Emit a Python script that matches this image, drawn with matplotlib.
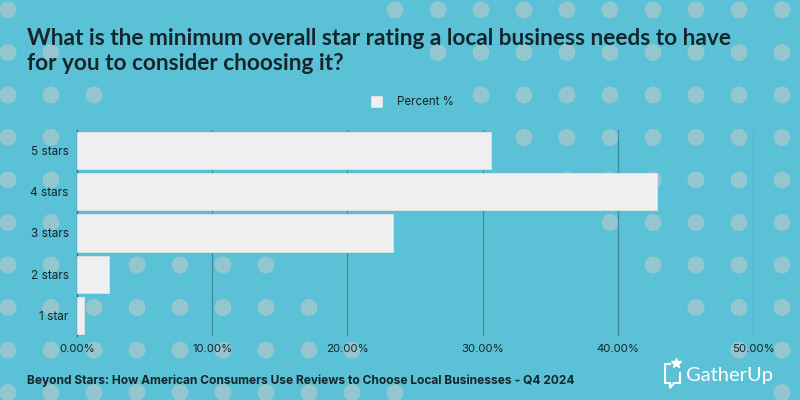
import matplotlib.pyplot as plt
from matplotlib.patches import Circle
from matplotlib.ticker import FuncFormatter

# data
ratings = ["5 stars", "4 stars", "3 stars", "2 stars", "1 star"]
percent = [30.6, 42.9, 23.4, 2.4, 0.5]
x_ticks = [0, 10, 20, 30, 40, 50]

title = ("What is the minimum overall star rating a local business needs to have\n"
         "for you to consider choosing it?")
footer = "Beyond Stars: How American Consumers Use Reviews to Choose Local Businesses - Q4 2024"

bg = "#5ac1d7"
dot_col = "#93c6cf"
bar_col = "#efefef"
grid_col = "#3f8e9f"
text_col = "#15262b"

# background dot pattern: which grid columns have a dot in each row
dot_rows = [
    [0] + list(range(9, 19)),
    [0, 1] + list(range(10, 19)),
    [0, 1, 2] + list(range(11, 19)),
    [0, 1] + list(range(12, 19)),
    [0, 1] + list(range(13, 19)),
    [0, 1] + list(range(14, 19)),
    [0, 1, 2, 3, 4, 5, 6] + list(range(15, 19)),
    [0, 1, 2, 3, 4, 5, 6, 7, 16, 17, 18],
    [0, 1, 2, 3, 4, 5, 6, 7, 8, 17, 18],
    [0, 1, 2, 3, 4, 5, 6, 7, 8, 9, 18],
]

fig = plt.figure(figsize=(8, 4), dpi=100, facecolor=bg)

back = fig.add_axes([0, 0, 1, 1])
back.set_xlim(0, 800)
back.set_ylim(400, 0)
back.axis("off")
for j, cols in enumerate(dot_rows):
    for k in cols:
        back.add_patch(Circle((8 + 43 * k, 10 + 42.5 * j), 8.5, color=dot_col, lw=0))

ax = fig.add_axes([77 / 800, 1 - 336 / 400, 676 / 800, 206 / 400])
ax.patch.set_alpha(0)
ax.barh(ratings, percent, height=0.9, color=bar_col, edgecolor="#e2e2e2",
        linewidth=0.6, zorder=3, label="Percent %")
ax.set_xlim(0, 50)
ax.set_ylim(4.5, -0.5)
ax.set_xticks(x_ticks)
ax.xaxis.set_major_formatter(FuncFormatter(lambda v, p: f"{v:.2f}%"))
ax.grid(axis="x", color=grid_col, linewidth=0.9, zorder=1)
ax.tick_params(length=0, labelsize=8.5, labelcolor=text_col, pad=6)
ax.tick_params(axis="x", labelsize=8.2)
for lab in ax.get_xticklabels() + ax.get_yticklabels():
    lab.set_fontfamily("Inter")
for s in ["top", "right", "bottom"]:
    ax.spines[s].set_visible(False)
ax.spines["left"].set_color("#2f6e7c")
ax.spines["left"].set_linewidth(0.9)

leg = ax.legend(loc="lower center", bbox_to_anchor=(0.496, 1.055), frameon=False,
                handlelength=1.0, handleheight=1.0, handletextpad=1.3,
                prop={"family": "Inter", "size": 8.3})
for t in leg.get_texts():
    t.set_color(text_col)

fig.text(27 / 800, 1 - 28 / 400, title, ha="left", va="top", fontsize=16.3,
         fontweight="bold", family="Lato", color=text_col, linespacing=1.22)
fig.text(27 / 800, 1 - 381 / 400, footer, ha="left", va="center", fontsize=8.6,
         fontweight="bold", family="Inter", color=text_col)

# GatherUp logo
fig.text(686 / 800, 1 - 375 / 400, "GatherUp", ha="left", va="center", fontsize=14.5,
         family="Lato", color="white")
back.plot([670, 665, 665, 670, 670, 674, 680, 680], [364, 364, 383, 383, 388, 383, 383, 373],
          color="white", lw=1.5, solid_joinstyle="miter")
back.plot([676], [363], marker="*", color="white", markersize=7.5, lw=0)

fig.savefig("out.png", dpi=100, facecolor=bg)
